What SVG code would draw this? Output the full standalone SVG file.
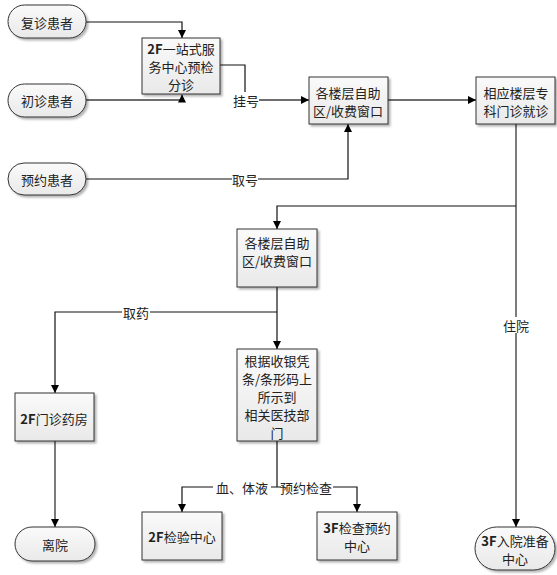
<svg xmlns="http://www.w3.org/2000/svg" width="557" height="575" viewBox="0 0 557 575">
<style>
text{font-family:"Noto Sans CJK SC","Noto Sans",sans-serif;font-size:13px;fill:#222;text-anchor:middle;dominant-baseline:central}
.b{font-weight:bold}
.box{fill:url(#g);stroke:#333;stroke-width:1;filter:url(#sh)}
.c{fill:none;stroke:#111;stroke-width:1.2}
.c2{fill:none;stroke:#6e6e6e;stroke-width:1.8}
.lbl{fill:#fff}
</style>
<defs>
<linearGradient id="g" x1="0" y1="0" x2="0" y2="1"><stop offset="0" stop-color="#fafafa"/><stop offset="1" stop-color="#e9e9e9"/></linearGradient>
<filter id="sh" x="-10%" y="-10%" width="130%" height="130%"><feDropShadow dx="2" dy="2" stdDeviation="1" flood-color="#000" flood-opacity="0.3"/></filter>
<marker id="a" viewBox="0 0 10 10" refX="10" refY="5" markerWidth="8" markerHeight="8" markerUnits="userSpaceOnUse" orient="auto"><path d="M0,0 L10,5 L0,10 z" fill="#000"/></marker>
</defs>
<g id="connectors">
<path class="c" d="M86,22 H182 V38" marker-end="url(#a)"/>
<path class="c2" d="M86,100 H182 V94.5" marker-end="url(#a)"/>
<path class="c" d="M220,65 H245 V100"/>
<path class="c2" d="M245,100 H309" marker-end="url(#a)"/>
<path class="c" d="M86,179 H348 V124" marker-end="url(#a)"/>
<path class="c2" d="M388,100 H476" marker-end="url(#a)"/>
<path class="c2" d="M516,124 V527" marker-end="url(#a)"/>
<path class="c" d="M516,206 H277 V229" marker-end="url(#a)"/>
<path class="c" d="M277,287 V349" marker-end="url(#a)"/>
<path class="c" d="M277,312 H55 V393" marker-end="url(#a)"/>
<path class="c2" d="M55,441 V527" marker-end="url(#a)"/>
<path class="c" d="M277,441 V487"/>
<path class="c" d="M277,487 H182 V512" marker-end="url(#a)"/>
<path class="c" d="M277,487 H357 V512" marker-end="url(#a)"/>
<rect class="lbl" x="233" y="92" width="26" height="16"/><text x="246" y="100">挂号</text>
<rect class="lbl" x="232" y="171" width="26" height="16"/><text x="245" y="179">取号</text>
<rect class="lbl" x="122" y="304" width="28" height="16"/><text x="136" y="312">取药</text>
<rect class="lbl" x="502" y="317" width="28" height="16"/><text x="516" y="325">住院</text>
<rect class="lbl" x="213" y="479" width="58" height="16"/><text x="242" y="487">血、体液</text>
<rect class="lbl" x="281" y="479" width="52" height="16"/><text x="306" y="487">预约检查</text>
</g>
<g id="n-fuzhen"><rect class="box" x="8" y="5" width="78" height="33" rx="16.5"/><text x="47" y="22">复诊患者</text></g>
<g id="n-chuzhen"><rect class="box" x="8" y="84" width="78" height="33" rx="16.5"/><text x="47" y="100">初诊患者</text></g>
<g id="n-yuyue"><rect class="box" x="8" y="163" width="78" height="32" rx="16"/><text x="47" y="179">预约患者</text></g>
<g id="n-yizhanshi"><rect class="box" x="142" y="38" width="78" height="56"/><text x="181" y="48"><tspan class="b">2F</tspan>一站式服</text><text x="181" y="66">务中心预检</text><text x="181" y="84">分诊</text></g>
<g id="n-ziZhu1"><rect class="box" x="309" y="77" width="79" height="47"/><text x="348" y="92">各楼层自助</text><text x="348" y="110">区/收费窗口</text></g>
<g id="n-zhuanke"><rect class="box" x="476" y="77" width="79" height="47"/><text x="516" y="92">相应楼层专</text><text x="516" y="110">科门诊就诊</text></g>
<g id="n-ziZhu2"><rect class="box" x="237" y="229" width="80" height="58"/><text x="277" y="242">各楼层自助</text><text x="277" y="260">区/收费窗口</text></g>
<g id="n-genju"><rect class="box" x="237" y="349" width="80" height="92"/><text x="277" y="360">根据收银凭</text><text x="277" y="378">条/条形码上</text><text x="277" y="396">所示到</text><text x="277" y="414">相关医技部</text><text x="277" y="432">门</text></g>
<g id="n-yaofang"><rect class="box" x="15" y="393" width="79" height="48"/><text x="54" y="418"><tspan class="b">2F</tspan>门诊药房</text></g>
<g id="n-liyuan"><rect class="box" x="15" y="527" width="80" height="34" rx="17"/><text x="55" y="544">离院</text></g>
<g id="n-jianyan"><rect class="box" x="142" y="512" width="80" height="48"/><text x="182" y="536"><tspan class="b">2F</tspan>检验中心</text></g>
<g id="n-jiancha"><rect class="box" x="317" y="512" width="80" height="48"/><text x="357" y="527"><tspan class="b">3F</tspan>检查预约</text><text x="357" y="545">中心</text></g>
<g id="n-ruyuan"><rect class="box" x="475" y="527" width="80" height="43" rx="21.5"/><text x="515" y="540"><tspan class="b">3F</tspan>入院准备</text><text x="515" y="558">中心</text></g>
</svg>
